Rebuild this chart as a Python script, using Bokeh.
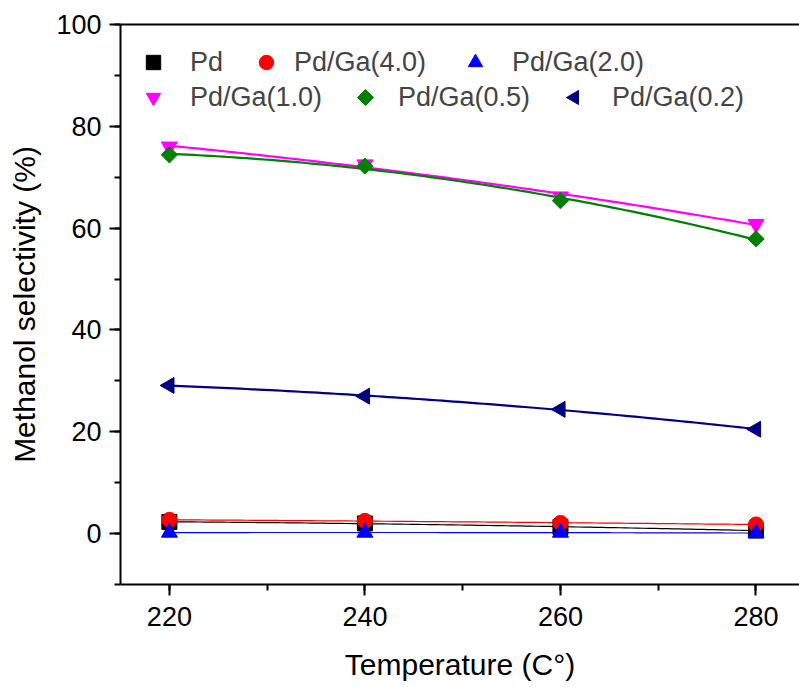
import numpy as np
from bokeh.plotting import figure
from bokeh.models import (Range1d, SingleIntervalTicker, LinearAxis, FixedTicker,
                          Legend, LegendItem, PolyAnnotation)
from bokeh.embed import file_html
from bokeh.resources import INLINE

temps = [220, 240, 260, 280]
pd_vals = [2.3, 2.0, 1.3, 0.6]
ga40 = [2.7, 2.5, 2.1, 1.8]
ga20 = [0.2, 0.2, 0.2, 0.1]
ga10 = [76.0, 72.5, 66.2, 60.8]
ga05 = [74.4, 72.2, 65.4, 57.9]
ga02 = [29.1, 27.0, 24.4, 20.5]

series = [
    ("Pd", pd_vals, "black", "square", 0.0, 1.2, 15),
    ("Pd/Ga(4.0)", ga40, "#FF0000", "circle", 0.0, 1.2, 15),
    ("Pd/Ga(2.0)", ga20, "#0000FF", "triangle", 0.0, 1.2, 16),
    ("Pd/Ga(1.0)", ga10, "#FF00FF", "inverted_triangle", 0.0, 2.2, 16),
    ("Pd/Ga(0.5)", ga05, "#008000", "square", np.pi / 4, 2.2, 11.5),
    ("Pd/Ga(0.2)", ga02, "#000080", "triangle", np.pi / 2, 2.2, 16),
]

FONT = "Liberation Sans"

p = figure(width=799, height=687, output_backend="svg", toolbar_location=None,
           x_range=Range1d(215, 284.45), y_range=Range1d(-10, 100),
           min_border_left=120, min_border_right=0, min_border_top=24,
           min_border_bottom=103)
p.outline_line_color = None
p.grid.visible = False
p.background_fill_color = "white"
p.border_fill_color = "white"

for ax in (p.xaxis[0], p.yaxis[0]):
    ax.axis_line_width = 2
    ax.major_tick_line_width = 2
    ax.minor_tick_line_width = 2
    ax.major_tick_in = 0
    ax.major_tick_out = 11
    ax.minor_tick_in = 0
    ax.minor_tick_out = 6
    ax.major_label_text_font = FONT
    ax.major_label_text_font_size = "27px"
    ax.major_label_text_color = "black"
    ax.axis_label_text_font = FONT
    ax.axis_label_text_font_size = "30px"
    ax.axis_label_text_font_style = "normal"
    ax.axis_label_text_color = "black"

p.xaxis[0].ticker = SingleIntervalTicker(interval=20, num_minor_ticks=2)
p.yaxis[0].ticker = SingleIntervalTicker(interval=20, num_minor_ticks=2)
p.xaxis[0].axis_label = "Temperature (C°)"
p.yaxis[0].axis_label = "Methanol selectivity (%)"
p.xaxis[0].major_label_standoff = 11
p.yaxis[0].major_label_standoff = 8
p.xaxis[0].axis_label_standoff = 19
p.yaxis[0].axis_label_standoff = 12

top = LinearAxis(ticker=FixedTicker(ticks=[]), axis_line_width=2,
                 major_tick_out=0, major_tick_in=0, minor_tick_out=0, minor_tick_in=0,
                 major_label_text_font_size="0px")
p.add_layout(top, "above")

xs = np.linspace(min(temps), max(temps), 100)
renderers = []
for name, vals, color, marker, ang, lw, sz in series:
    coef = np.polyfit(temps, vals, 2)
    p.line(xs, np.polyval(coef, xs), line_color=color, line_width=lw)
for name, vals, color, marker, ang, lw, sz in series:
    r = p.scatter(temps, vals, marker=marker, size=sz, angle=ang,
                  fill_color=color, line_color=color)
    renderers.append((name, r))

# legend entries whose rotated symbol the legend cannot draw: label only,
# the symbol is drawn with a screen-space polygon below
ghost = p.scatter(temps, ga02, marker="triangle", size=1, fill_alpha=0, line_alpha=0)
legend_entries = renderers[:4] + [("Pd/Ga(0.5)", ghost), ("Pd/Ga(0.2)", ghost)]

# (frame x offset, frame y offset, label standoff) of each legend entry
legend_pos = [(15, 504, 19), (128, 504, 10), (337, 504, 19),
              (15, 469, 19), (223, 469, 19), (437, 469, 19)]
for (name, r), (lx, ly, so) in zip(legend_entries, legend_pos):
    lg = Legend(items=[LegendItem(label=name, renderers=[r])],
                location=(lx, ly),
                label_text_font=FONT, label_text_font_size="27px",
                label_standoff=so, glyph_width=36, glyph_height=36,
                label_height=27, padding=0, margin=0,
                border_line_color=None, background_fill_alpha=0)
    p.add_layout(lg, "center")

p.add_layout(PolyAnnotation(xs=[237, 245, 253, 245], ys=[487, 495, 487, 479],
                            xs_units="screen", ys_units="screen",
                            fill_color="#008000", fill_alpha=1,
                            line_color="#008000", line_alpha=1))
p.add_layout(PolyAnnotation(xs=[446, 458, 458], ys=[487, 494, 480],
                            xs_units="screen", ys_units="screen",
                            fill_color="#000080", fill_alpha=1,
                            line_color="#000080", line_alpha=1))

open("out.html", "w").write(file_html(p, INLINE))
